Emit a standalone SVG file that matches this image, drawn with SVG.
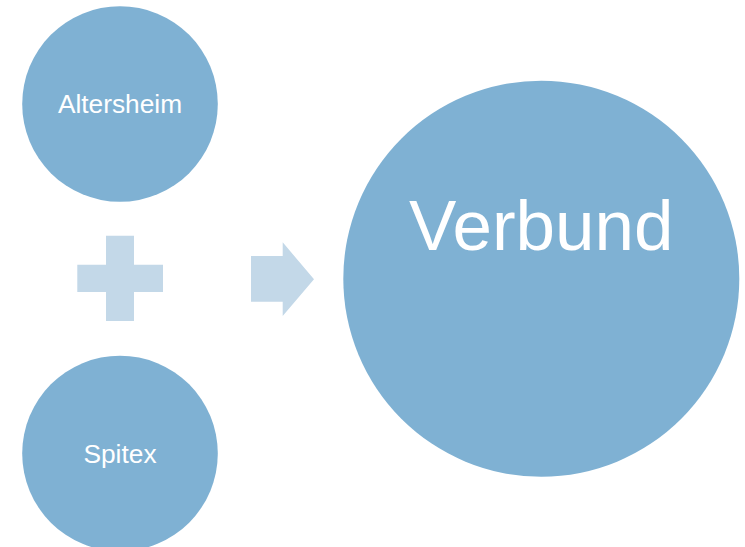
<svg xmlns="http://www.w3.org/2000/svg" width="745" height="547" viewBox="0 0 745 547">
<style>
.c{fill:#7FB1D3}
.s{fill:#C3D8E8}
text{font-family:"Liberation Sans",Arial,sans-serif;fill:#FFFFFF;text-anchor:middle}
</style>
<rect width="745" height="547" fill="#FFFFFF"/>
<g id="altersheim"><circle class="c" cx="120" cy="104" r="97.8"/><text x="120" y="113.3" font-size="26.3">Altersheim</text></g>
<g id="spitex"><circle class="c" cx="120" cy="453.5" r="97.8"/><text x="120" y="462.7" font-size="26.3">Spitex</text></g>
<g id="plus"><path class="s" d="M106 235.7H134V264.7H163V292H134V321H106V292H77.3V264.7H106Z"/></g>
<g id="verbund"><circle class="c" cx="541.3" cy="278.7" r="198"/><text x="541.3" y="250" font-size="71">Verbund</text></g>
<g id="connectors"><path class="s" d="M251 256H282.7V242.3L314 279.3L282.7 316V301.7H251Z"/></g>
</svg>
